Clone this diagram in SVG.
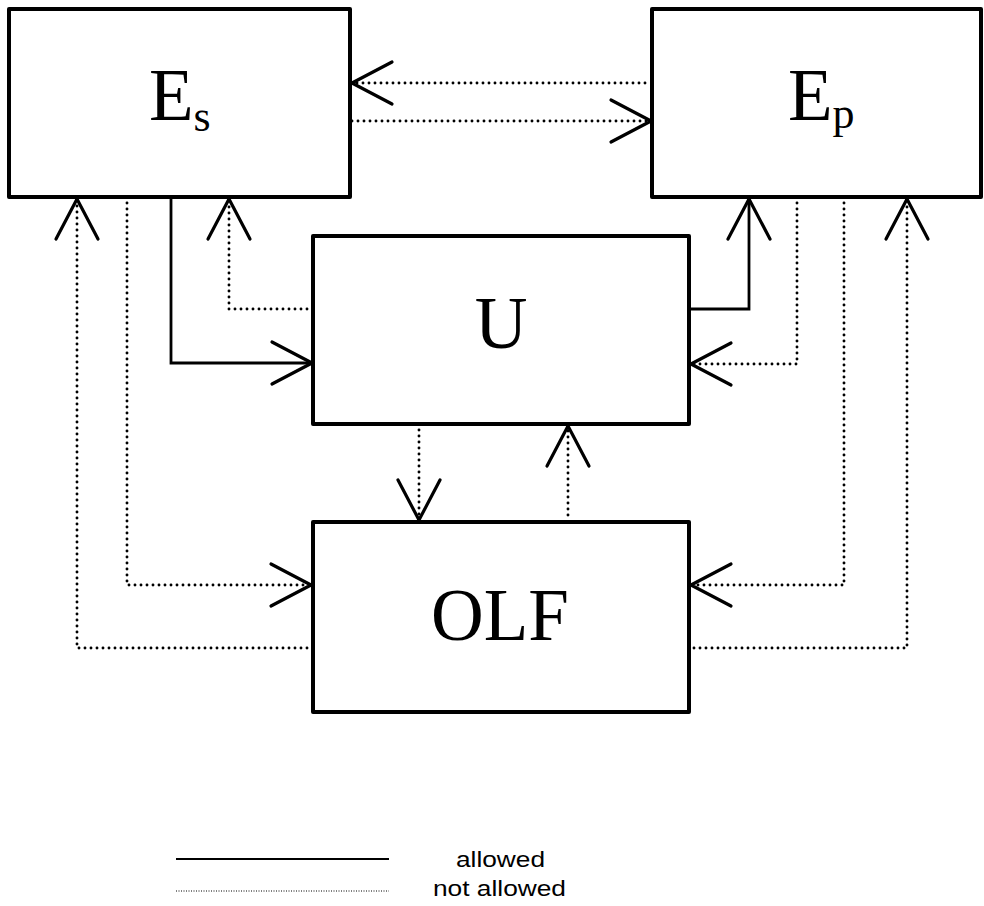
<svg xmlns="http://www.w3.org/2000/svg" width="984" height="906" viewBox="0 0 984 906">
<defs>
<style>
.box{fill:#fff;stroke:#000;stroke-width:4;stroke-linejoin:round}
.lbl{font-family:"Liberation Serif","Times New Roman",serif;font-size:73px;fill:#000}
.sub{font-size:44px}
.solid{fill:none;stroke:#000;stroke-width:2.8}
.dot{fill:none;stroke:#000;stroke-width:2.9;stroke-linecap:round;stroke-dasharray:0 6}
.leg{font-family:"Liberation Sans",Arial,sans-serif;font-size:22px;fill:#000}
</style>
<marker id="v" markerUnits="userSpaceOnUse" markerWidth="50" markerHeight="50" refX="0" refY="0" viewBox="-44 -25 48 50" orient="auto" overflow="visible">
<path d="M-40,-21 L0,0 L-40,21" fill="none" stroke="#000" stroke-width="3.2" stroke-linecap="round" stroke-linejoin="round"/>
</marker>
</defs>
<rect width="984" height="906" fill="#fff"/>
<g id="connectors">
<path class="dot" d="M645,83 L352,83" marker-end="url(#v)"/>
<path class="dot" d="M352,121 L651,121" marker-end="url(#v)"/>
<path class="solid" d="M171,199 V363 H312" marker-end="url(#v)"/>
<path class="dot" d="M307,309 H229 V199" marker-end="url(#v)"/>
<path class="dot" d="M307,648 H77 V199" marker-end="url(#v)"/>
<path class="dot" d="M127,203 V585 H311" marker-end="url(#v)"/>
<path class="solid" d="M691,309 H749 V199" marker-end="url(#v)"/>
<path class="dot" d="M797,203 V364 H691" marker-end="url(#v)"/>
<path class="dot" d="M844,203 V585 H691" marker-end="url(#v)"/>
<path class="dot" d="M694,648 H907 V199" marker-end="url(#v)"/>
<path class="dot" d="M419,430 V520" marker-end="url(#v)"/>
<path class="dot" d="M568,515 V426" marker-end="url(#v)"/>
</g>
<g id="node-Es">
<rect class="box" x="9" y="9" width="341" height="188"/>
<text class="lbl" x="149" y="120">E<tspan class="sub" dy="11">s</tspan></text>
</g>
<g id="node-Ep">
<rect class="box" x="652" y="9" width="329" height="188"/>
<text class="lbl" x="788" y="120">E<tspan class="sub" dy="8">p</tspan></text>
</g>
<g id="node-U">
<rect class="box" x="313" y="236" width="376" height="188"/>
<text class="lbl" x="501" y="348" text-anchor="middle">U</text>
</g>
<g id="node-OLF">
<rect class="box" x="313" y="522" width="376" height="190"/>
<text class="lbl" x="500" y="640" text-anchor="middle">OLF</text>
</g>
<g id="legend">
<line x1="176" y1="859" x2="389" y2="859" stroke="#000" stroke-width="1.8"/>
<line x1="176" y1="891" x2="389" y2="891" stroke="#000" stroke-width="1.2" stroke-dasharray="1 1.5"/>
<text class="leg" x="456" y="867" textLength="89" lengthAdjust="spacingAndGlyphs">allowed</text>
<text class="leg" x="433" y="896" textLength="133" lengthAdjust="spacingAndGlyphs">not allowed</text>
</g>
</svg>
